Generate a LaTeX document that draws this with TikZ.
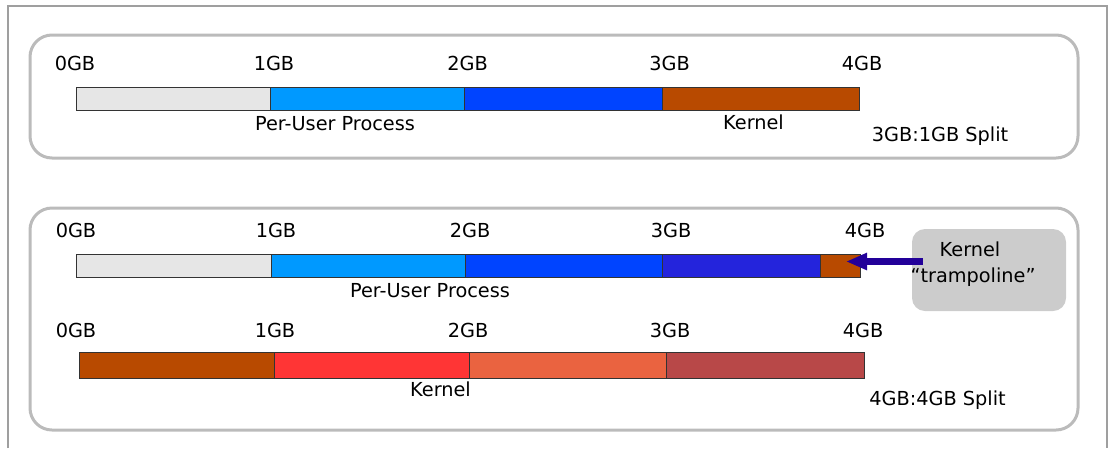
\documentclass[tikz,border=0pt]{standalone}
\usepackage{fontspec}
\setmainfont{DejaVu Sans}
\usepackage{tikz}
\usetikzlibrary{arrows.meta,positioning}
\definecolor{memgray}{HTML}{E6E6E6}
\definecolor{userblue}{HTML}{0099FF}
\definecolor{userdark}{HTML}{0044FF}
\definecolor{userpurple}{HTML}{2424DC}
\definecolor{kernbrown}{HTML}{B84A00}
\definecolor{kernred}{HTML}{FF3535}
\definecolor{kernorange}{HTML}{EA6340}
\definecolor{kernrose}{HTML}{B84848}
\definecolor{boxgray}{HTML}{BBBBBB}
\definecolor{arrowblue}{HTML}{220099}
\tikzset{
	seg/.style={draw=black!80,line width=0.9pt},
	lbl/.style={font=\fontsize{19.3}{23}\selectfont,inner sep=0pt,anchor=base},
	splitbox/.style={draw=boxgray,line width=3pt,rounded corners=22pt}
}

\begin{document}
\begin{tikzpicture}[x=1pt,y=-1pt]
			\useasboundingbox (0,0) rectangle (1110,448);
			\draw [gray!75,line width=1.2pt] (8,448) -- (8,6) -- (1107,6) -- (1107,448);
			\draw [splitbox] (30,35) rectangle (1078,158);
			\draw [splitbox] (30,208) rectangle (1078,430);
			\draw [seg,fill=memgray] (76,87) rectangle (270,110);
			\draw [seg,fill=userblue] (270,87) rectangle (464,110);
			\draw [seg,fill=userdark] (464,87) rectangle (662,110);
			\draw [seg,fill=kernbrown] (662,87) rectangle (859,110);
			\node [lbl] (a0) at (75,70) {0GB};
			\node [lbl] (a1) at (274,70) {1GB};
			\node [lbl] (a2) at (467.5,70) {2GB};
			\node [lbl] (a3) at (669.5,70) {3GB};
			\node [lbl] (a4) at (862,70) {4GB};
			\node [lbl] (auser) at (335,130) {Per-User Process};
			\node [lbl] (akern) at (753.5,129) {Kernel};
			\node [lbl] (asplit) at (940,141) {3GB:1GB Split};
			\draw [seg,fill=memgray] (76,254) rectangle (271,277);
			\draw [seg,fill=userblue] (271,254) rectangle (465,277);
			\draw [seg,fill=userdark] (465,254) rectangle (662,277);
			\draw [seg,fill=userpurple] (662,254) rectangle (820,277);
			\draw [seg,fill=kernbrown] (820,254) rectangle (860,277);
			\node [lbl] (b0) at (76,237) {0GB};
			\node [lbl] (b1) at (276,237) {1GB};
			\node [lbl] (b2) at (470,237) {2GB};
			\node [lbl] (b3) at (671,237) {3GB};
			\node [lbl] (b4) at (865,237) {4GB};
			\node [lbl] (buser) at (430,297) {Per-User Process};
			\node [fill=black!20,rounded corners=13pt,minimum width=154pt,minimum height=82pt] (tramp) at (989,270) {};
			\node [lbl] (tkern) at (970,256) {Kernel};
			\node [lbl] (tname) at (973,282) {“trampoline”};
			\coordinate (tip) at (846,261.5);
			\draw [arrowblue,line width=6.5pt,-{Triangle[length=21pt,width=16pt]}] ([xshift=11pt,yshift=8.5pt]tramp.west) -- (tip);
			\draw [seg,fill=kernbrown] (79,352) rectangle (274,378);
			\draw [seg,fill=kernred] (274,352) rectangle (469,378);
			\draw [seg,fill=kernorange] (469,352) rectangle (666,378);
			\draw [seg,fill=kernrose] (666,352) rectangle (864,378);
			\node [lbl] (c0) at (76,337) {0GB};
			\node [lbl] (c1) at (275,337) {1GB};
			\node [lbl] (c2) at (468,337) {2GB};
			\node [lbl] (c3) at (670,337) {3GB};
			\node [lbl] (c4) at (863,337) {4GB};
			\node [lbl] (ckern) at (440.5,396) {Kernel};
			\node [lbl] (csplit) at (937.5,405) {4GB:4GB Split};
\end{tikzpicture}
\end{document}
